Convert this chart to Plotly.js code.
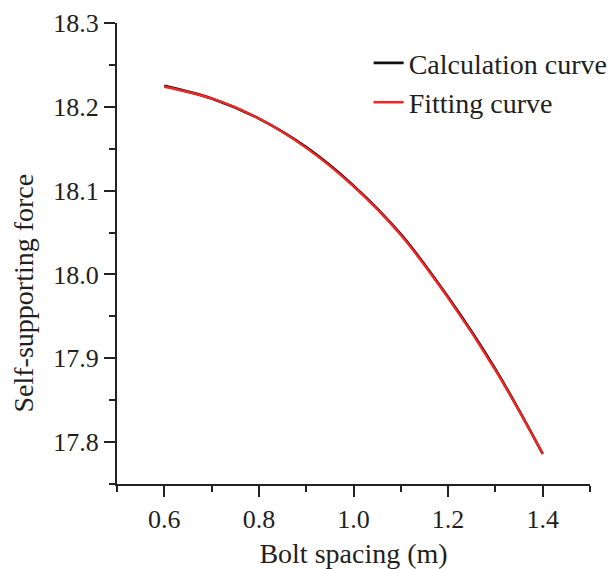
<!DOCTYPE html>
<html>
<head>
<meta charset="utf-8">
<script src="https://cdn.plot.ly/plotly-3.0.1.min.js"></script>
<style>html,body{margin:0;padding:0;background:#fff;}#chart{width:610px;height:569px;}</style>
</head>
<body>
<div id="chart"></div>
<script>
var boltSpacing = [0.6, 0.7, 0.8, 0.9, 1.0, 1.1, 1.2, 1.3, 1.4];
var calculationForce = [18.225, 18.210, 18.186, 18.152, 18.106, 18.048, 17.973, 17.887, 17.786];
var fittingForce = [18.224, 18.210, 18.186, 18.151, 18.105, 18.047, 17.972, 17.886, 17.786];
var seriesNames = ["Calculation curve", "Fitting curve"];
var xTitle = "Bolt spacing (m)";
var yTitle = "Self-supporting force";

var font = "'Times New Roman', 'Liberation Serif', Tinos, serif";
var txt = "#231f20";

var traces = [
  {x: boltSpacing, y: calculationForce, name: seriesNames[0], mode: "lines",
   line: {color: "#111111", width: 2.6, shape: "spline"}},
  {x: boltSpacing, y: fittingForce, name: seriesNames[1], mode: "lines",
   line: {color: "#f42525", width: 2.4, shape: "spline"}}
];

var layout = {
  width: 610, height: 569,
  margin: {l: 117, r: 20, t: 23, b: 85, autoexpand: false},
  paper_bgcolor: "#fff", plot_bgcolor: "#fff",
  font: {family: font, color: txt, size: 26},
  showlegend: true,
  legend: {x: 0.532, y: 0.967, xanchor: "left", yanchor: "top", bgcolor: "rgba(0,0,0,0)",
           font: {family: font, size: 28, color: txt}, tracegroupgap: 0},
  xaxis: {
    range: [0.5, 1.5], dtick: 0.2, tick0: 0.6, tickformat: ".1f", automargin: false,
    showgrid: false, zeroline: false, showline: true, linecolor: "#222", linewidth: 2,
    ticks: "outside", ticklen: 11, tickwidth: 2, tickcolor: "#222",
    minor: {dtick: 0.1, tick0: 0.5, ticks: "outside", ticklen: 6, tickwidth: 2, tickcolor: "#222", showgrid: false},
    tickfont: {family: font, size: 26, color: txt},
    title: {text: xTitle, font: {family: font, size: 28, color: txt}, standoff: 11}
  },
  yaxis: {
    range: [17.75, 18.3], dtick: 0.1, tick0: 17.8, tickformat: ".1f", automargin: false,
    showgrid: false, zeroline: false, showline: true, linecolor: "#222", linewidth: 2,
    ticks: "outside", ticklen: 11, tickwidth: 2, tickcolor: "#222",
    minor: {dtick: 0.05, tick0: 17.75, ticks: "outside", ticklen: 6, tickwidth: 2, tickcolor: "#222", showgrid: false},
    tickfont: {family: font, size: 26, color: txt},
    title: {text: ""}
  },
  annotations: [
    {text: yTitle, xref: "paper", yref: "paper", x: -0.198, y: 0.414, textangle: -90,
     showarrow: false, font: {family: font, size: 28, color: txt}, xanchor: "center", yanchor: "middle"}
  ]
};

Plotly.newPlot("chart", traces, layout, {displayModeBar: false, staticPlot: true});
</script>
</body>
</html>
